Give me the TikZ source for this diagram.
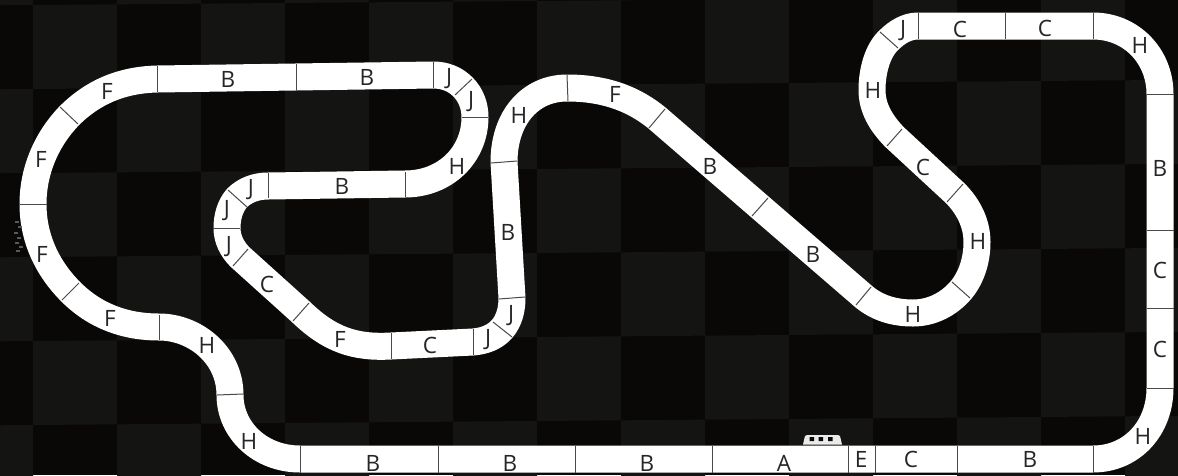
\documentclass[tikz,border=0pt]{standalone}
\usepackage{fontspec}
\setmainfont{Open Sans}
\definecolor{chkA}{HTML}{141413}
\definecolor{chkB}{HTML}{090807}
\definecolor{sepc}{HTML}{4A4A4A}
\definecolor{lab}{HTML}{262626}
\tikzset{
  trackedge/.style={line width=27pt,white,line join=round},
  sepline/.style={line width=1pt,sepc},
  lbl/.style={text=lab,font=\fontsize{22.5}{22.5}\selectfont,inner sep=0pt,anchor=center},
  cellA/.style={fill=chkA,draw=none},
}
\begin{document}
\begin{tikzpicture}[x=1pt,y=-1pt]
\useasboundingbox (0,0) rectangle (1178,475);
\fill[chkB] (0,0) rectangle (1178,475);
\begin{scope}
\clip (0,0) rectangle (1178,475);
\foreach \i in {-1,...,13}{\foreach \j in {-1,...,6}{
  \pgfmathtruncatemacro{\parityval}{mod(\i+\j+100,2)}
  \ifnum\parityval=0
    \fill[cellA,shift={(33+84*\i,5+84*\j-0.67*\i)}] (0,0) -- (84,-0.67) -- (84,83.33) -- (0,84) -- cycle;
  \fi
}}
\end{scope}
% track centre line
\draw[trackedge] (300,459) -- (1093,459)
  .. controls (1132,459) and (1160,428) .. (1160,388)
  -- (1160,94)
  .. controls (1160,56) and (1131,26) .. (1093,26)
  -- (918,26)
  .. controls (907,26) and (897,32) .. (889,40)
  .. controls (878,50) and (872,70) .. (872,90)
  .. controls (872,108) and (881,123) .. (894.5,137)
  -- (955,193)
  .. controls (968,206) and (977,223) .. (977,242)
  .. controls (977,261) and (971,278) .. (961,290)
  .. controls (949,304) and (932,313) .. (913,313)
  .. controls (894,313) and (877,308) .. (863,296)
  -- (657,118)
  .. controls (630,96) and (600,88) .. (567,88)
  .. controls (530,88) and (504,118) .. (504,162)
  -- (512,298)
  .. controls (512,310) and (509,321) .. (502,329)
  .. controls (495,337) and (485,341) .. (473,342)
  -- (391,346)
  .. controls (355,348) and (330,340) .. (301,312)
  -- (240,257)
  .. controls (232,249) and (227,239) .. (227,228)
  .. controls (227,217) and (230,206) .. (237,198)
  .. controls (245,190) and (256,186) .. (268,186)
  -- (405,184)
  .. controls (445,184) and (475,155) .. (475,117)
  .. controls (475,106) and (471,95) .. (463,87)
  .. controls (455,79) and (445,75) .. (433,75)
  -- (157,79)
  .. controls (120,80) and (92,93) .. (69,116)
  .. controls (47,139) and (33,170) .. (33,204)
  .. controls (33,238) and (47,268) .. (71,292)
  .. controls (95,316) and (125,327) .. (159,327)
  .. controls (195,327) and (230,355) .. (230,395)
  .. controls (230,430) and (260,459) .. (300,459)
  -- cycle;
% separators between track pieces
\foreach \a/\b/\c/\d in {
 300/446/300/473, 438/446/438/473, 575/446/575/473, 712/446/712/473,
 848/446/848/473, 875/446/875/473, 957/446/957/473, 1093/446/1093/473,
 1147/388/1174/388, 1147/308/1174/308, 1147/230/1174/230, 1147/94/1174/94,
 1093/13/1093/39, 1005/13/1005/39, 918/13/918/39,
 880/32/898/48, 887/146/902/129, 947/202/963/184, 952/282/970/298,
 856/305/871/287, 752/216/768/198, 649/128/665/109, 567/75/568/101,
 491/163/517/161, 499/299/525/297, 493/322/512/337, 473/329/473/355,
 391/333/391/359, 293/321/309/303, 233/266/248/249, 213/228/240/228,
 228/190/247/207, 268/173/268/198, 405/172/405/197, 462/117/488/117,
 455/95/472/79, 433/62/433/88, 296/64/296/90, 157/66/157/92,
 60/107/78/124, 20/204/47/204, 62/300/79/283, 159/315/159/340,
 217/395/243/394}{
  \draw[sepline] (\a,\b) -- (\c,\d);
}
% grandstand
\fill[white!92!black] (803,444.5) -- (805,436) -- (807,435) -- (838,435) -- (840,436) -- (842,444.5) -- cycle;
\fill[chkB] (809.5,437) rectangle (814,441) (818.5,437) rectangle (823,441) (828,437) rectangle (832.5,441);
% faint scan marks at the left edge
\foreach \a/\b in {15/221,18/226,14/232,17/237,15/242,19/246,16/250}{
  \fill[white!35!black] (\a,\b) rectangle ++(4,1.5);
}
% labels
\foreach \x/\y/\t/\n in {
 373/463/B/a1,510/463/B/a2,647/463/B/a3,784/463/A/a4,861/459/E/a5,911/459/C/a6,1030/459/B/a7,1143/436/H/a8,
 1140/45/H/b1,1160/168/B/b2,1160/270/C/b3,1160/349/C/b4,
 903/31/J/c1,960/29/C/c2,1045/28/C/c3,873/90/H/c4,923/167/C/c5,978/241/H/c6,913/314/H/c7,
 813/254/B/d1,710/166/B/d2,615/94/F/d3,519/115/H/d4,508/232/B/d5,511/316/J/d6,488/340/J/d7,
 430/345/C/e1,340/339/F/e2,267/284/C/e3,229/247/J/e4,227/211/J/e5,251/190/J/e6,342/186/B/e7,
 457/166/H/f1,471/102/J/f2,449/79/J/f3,367/77/B/f4,228/79/B/f5,
 107/91/F/g1,41/159/F/g2,42/254/F/g3,110/318/F/g4,207/345/H/g5,249/441/H/g6}{
  \node[lbl] (\n) at (\x,\y) {\t};
}
\end{tikzpicture}
\end{document}
